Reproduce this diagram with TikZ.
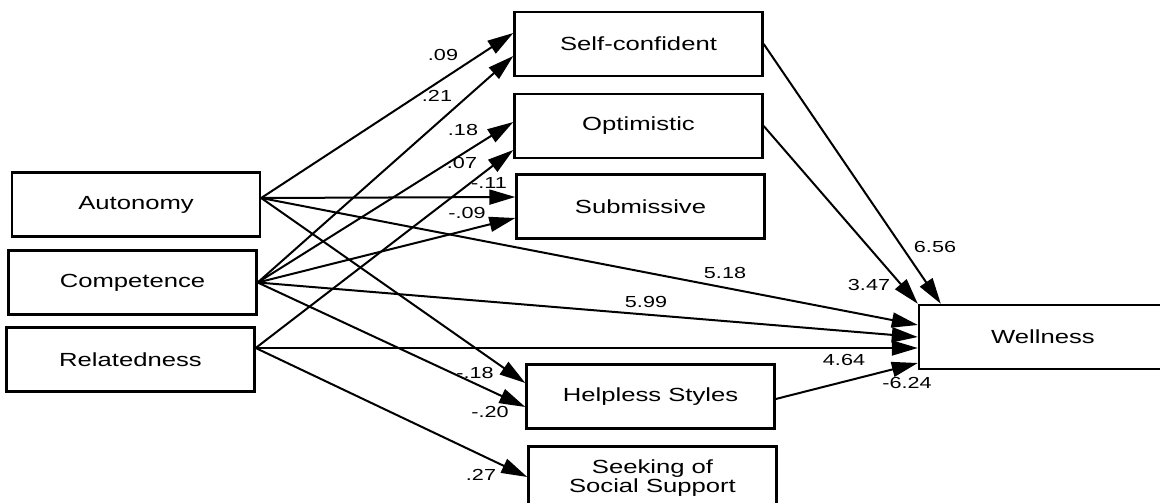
\documentclass[tikz,border=0pt]{standalone}
\usepackage{fontspec}
\setmainfont{Liberation Sans}[FakeStretch=1.35]
\usetikzlibrary{arrows.meta}
\tikzset{
  varbox/.style={
    draw, line width=2.4pt, minimum width=248pt, minimum height=64pt,
    inner sep=0pt, align=center, font=\fontsize{19}{19}\selectfont},
  patharrow/.style={-{Triangle[length=26pt, width=15pt]}, line width=2pt},
  coef/.style={font=\fontsize{16}{18}\selectfont, inner sep=0pt},
}
\begin{document}
\begin{tikzpicture}[x=1pt, y=-1pt]
\useasboundingbox (0,0) rectangle (1160,503);
\fill[white] (0,0) rectangle (1160,503);
\clip (0,0) rectangle (1160,503);

% Needs (left column).
\node[varbox] (auto) at (136,204.5) {Autonomy};
\node[varbox] (comp) at (132.5,282.5) {Competence};
\node[varbox] (rel) at (130.5,359.5) {Relatedness};

% Coping styles (middle column).
\node[varbox] (selfc) at (638.5,44) {Self-confident};
\node[varbox] (optim) at (638.5,126) {Optimistic};
\node[varbox] (subm) at (640.5,206.5) {Submissive};
\node[varbox] (helpl) at (650.5,396.5) {Helpless Styles};
\node[varbox] (seek) at (652.5,478.5) {Seeking of\\Social Support};

% Outcome.
\node[varbox] (well) at (1043,337) {Wellness};

% Paths from autonomy.
\draw[patharrow] ([yshift=6.5pt]auto.east) -- ([yshift=11pt]selfc.west);
\draw[patharrow] ([yshift=6.5pt]auto.east) -- ([yshift=9.5pt]subm.west);
\draw[patharrow] ([yshift=6.5pt]auto.east) -- ([yshift=12pt]well.west);
\draw[patharrow] ([yshift=6.5pt]auto.east) -- ([yshift=13.5pt]helpl.west);

% Paths from competence.
\draw[patharrow] (comp.east) -- ([yshift=-12pt]selfc.west);
\draw[patharrow] (comp.east) -- ([yshift=4pt]optim.west);
\draw[patharrow] (comp.east) -- ([yshift=-11.5pt]subm.west);
\draw[patharrow] (comp.east) -- (well.west);
\draw[patharrow] (comp.east) -- ([yshift=-10.5pt]helpl.west);

% Paths from relatedness.
\draw[patharrow] ([yshift=11.5pt]rel.east) -- ([yshift=-24pt]optim.west);
\draw[patharrow] ([yshift=11.5pt]rel.east) -- ([yshift=-11pt]well.west);
\draw[patharrow] ([yshift=11.5pt]rel.east) -- ([yshift=1.5pt]seek.west);

% Paths into wellness.
\draw[patharrow] (selfc.east) -- ([xshift=23pt]well.north west);
\draw[patharrow] (optim.east) -- (well.north west);
\draw[patharrow] ([yshift=-2.5pt]helpl.east) -- ([yshift=-26pt]well.west);

% Coefficients.
\node[coef] (c-as) at (443,55) {.09};
\node[coef] (c-cs) at (437,96) {.21};
\node[coef] (c-co) at (463,130) {.18};
\node[coef] (c-ro) at (462,163) {.07};
\node[coef] (c-asu) at (489,183) {-.11};
\node[coef] (c-csu) at (467,213) {-.09};
\node[coef] (c-ah) at (475,373) {-.18};
\node[coef] (c-ch) at (490,412) {-.20};
\node[coef] (c-rs) at (481,475) {.27};
\node[coef] (c-aw) at (725,273) {5.18};
\node[coef] (c-cw) at (646,302) {5.99};
\node[coef] (c-rw) at (844,360) {4.64};
\node[coef] (c-sw) at (935,247) {6.56};
\node[coef] (c-ow) at (869,285) {3.47};
\node[coef] (c-hw) at (907,383) {-6.24};

\end{tikzpicture}
\end{document}
